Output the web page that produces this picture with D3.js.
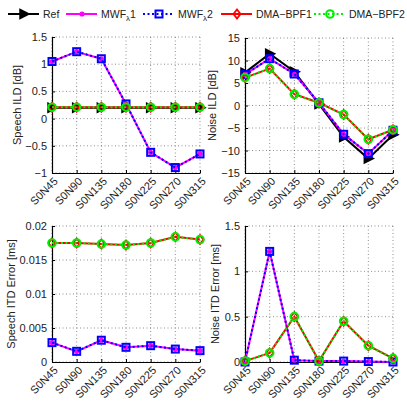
<!DOCTYPE html>
<html><head><meta charset="utf-8">
<script src="https://cdn.jsdelivr.net/npm/d3@7"></script>
<style>body{margin:0;background:#fff}svg{font-family:"Liberation Sans",Arial,sans-serif}</style>
</head><body><svg id="c" width="407" height="402"></svg>
<script>
const categories = ["S0N45","S0N90","S0N135","S0N180","S0N225","S0N270","S0N315"];
// Speech ILD [dB]
const speechILD_ref  = [0.2,0.2,0.2,0.2,0.2,0.2,0.2];
const speechILD_mwf1 = [1.05,1.23,1.1,0.27,-0.62,-0.9,-0.65];
const speechILD_mwf2 = [1.05,1.23,1.1,0.27,-0.62,-0.9,-0.65];
const speechILD_dma1 = [0.21,0.21,0.21,0.21,0.21,0.21,0.21];
const speechILD_dma2 = [0.21,0.21,0.21,0.21,0.21,0.21,0.21];
// Noise ILD [dB]
const noiseILD_ref  = [7.3,11.5,7.5,0.3,-7.0,-11.8,-6.5];
const noiseILD_mwf1 = [6.9,10.4,7.0,0.6,-6.4,-10.7,-5.5];
const noiseILD_mwf2 = [6.9,10.4,7.0,0.6,-6.4,-10.7,-5.5];
const noiseILD_dma1 = [6.2,8.2,2.5,0.6,-2.0,-7.5,-5.4];
const noiseILD_dma2 = [6.2,8.2,2.5,0.6,-2.0,-7.5,-5.4];
// Speech ITD Error [ms]
const speechITD_mwf1 = [0.00285,0.00157,0.0032,0.00216,0.0024,0.0019,0.00167];
const speechITD_mwf2 = [0.00285,0.00157,0.0032,0.00216,0.0024,0.0019,0.00167];
const speechITD_dma1 = [0.0175,0.0175,0.01735,0.0172,0.0175,0.0184,0.018];
const speechITD_dma2 = [0.0175,0.0175,0.01735,0.0172,0.0175,0.0184,0.018];
// Noise ITD Error [ms]
const noiseITD_mwf1 = [0.0,1.22,0.02,0.01,0.01,0.005,0.0];
const noiseITD_mwf2 = [0.0,1.22,0.02,0.01,0.01,0.005,0.0];
const noiseITD_dma1 = [0.01,0.1,0.5,0.01,0.45,0.18,0.04];
const noiseITD_dma2 = [0.01,0.1,0.5,0.01,0.45,0.18,0.04];

const ticks1 = [-1,-0.5,0,0.5,1,1.5];
const ticks2 = [-15,-10,-5,0,5,10,15];
const ticks3 = [0,0.005,0.01,0.015,0.02];
const ticks4 = [0,0.5,1,1.5];

const legendNames = ["Ref","MWF","MWF","DMA\u2212BPF1","DMA\u2212BPF2"];

const styles = {
  ref:{color:"#000",dash:null,marker:"tri"},
  mwf1:{color:"#ff00ff",dash:null,marker:"dot"},
  mwf2:{color:"#0000ff",dash:"2,2.5",marker:"sq"},
  dma1:{color:"#ff0000",dash:null,marker:"dia"},
  dma2:{color:"#00ee00",dash:"2,2.5",marker:"circ"}
};

const svg = d3.select("#c");
const fmt = v => String(v).replace("-","\u2212");

function drawMarker(g,type,x,y,color){
  if(type==="tri"){
    g.append("path").attr("d",`M${x-4},${y-4.5}L${x+5},${y}L${x-4},${y+4.5}Z`)
     .attr("fill","#000").attr("stroke","#000").attr("stroke-width",1.5);
  } else if(type==="dot"){
    g.append("circle").attr("cx",x).attr("cy",y).attr("r",2.6).attr("fill",color);
  } else if(type==="sq"){
    g.append("rect").attr("x",x-3.5).attr("y",y-3.5).attr("width",7).attr("height",7)
     .attr("fill","none").attr("stroke",color).attr("stroke-width",2);
  } else if(type==="dia"){
    g.append("path").attr("d",`M${x},${y-4.5}L${x+3.5},${y}L${x},${y+4.5}L${x-3.5},${y}Z`)
     .attr("fill","none").attr("stroke",color).attr("stroke-width",1.8);
  } else if(type==="circ"){
    g.append("circle").attr("cx",x).attr("cy",y).attr("r",3.8)
     .attr("fill","none").attr("stroke",color).attr("stroke-width",2);
  }
}

function panel(box, domain, ticks, label, series){
  const x = d3.scalePoint().domain(categories).range([box.x0,box.x1]);
  const y = d3.scaleLinear().domain(domain).range([box.y1,box.y0]);
  const g = svg.append("g");
  // grid
  const grid = g.append("g").attr("stroke","#444").attr("stroke-width",0.6).attr("stroke-dasharray","1,2.5");
  categories.forEach(c=>{ grid.append("line").attr("x1",x(c)).attr("x2",x(c)).attr("y1",box.y0).attr("y2",box.y1); });
  ticks.forEach(t=>{ grid.append("line").attr("x1",box.x0).attr("x2",box.x1).attr("y1",y(t)).attr("y2",y(t)); });
  // axes
  const ya = g.append("g").attr("transform",`translate(${box.x0},0)`)
    .call(d3.axisLeft(y).tickValues(ticks).tickFormat(fmt).tickSizeInner(-3).tickSizeOuter(0).tickPadding(5));
  const xa = g.append("g").attr("transform",`translate(0,${box.y1})`)
    .call(d3.axisBottom(x).tickSizeInner(-3).tickSizeOuter(0).tickPadding(4));
  [ya,xa].forEach(a=>{ a.select(".domain").attr("stroke","#000").attr("stroke-width",1.2);
    a.selectAll(".tick line").attr("stroke","#000");
    a.selectAll("text").attr("font-size",11).attr("fill","#222").attr("font-family","Liberation Sans, Arial, sans-serif"); });
  xa.selectAll(".tick text").attr("text-anchor","end").attr("dy",0).attr("y",0)
    .attr("transform","translate(6,9) rotate(-45)");
  // label
  g.append("text").attr("transform",`translate(${box.lx},${(box.y0+box.y1)/2}) rotate(-90)`)
    .attr("text-anchor","middle").attr("font-size",11).attr("fill","#222").text(label);
  // series
  series.forEach(([key,vals])=>{
    const st = styles[key];
    const line = d3.line().x((d,i)=>x(categories[i])).y(d=>y(d));
    g.append("path").attr("d",line(vals)).attr("fill","none").attr("stroke",st.color)
      .attr("stroke-width",2).attr("stroke-dasharray",st.dash);
    vals.forEach((v,i)=>drawMarker(g,st.marker,x(categories[i]),y(v),st.color));
  });
}

panel({x0:52,x1:200,y0:37,y1:173,lx:21}, [-1,1.5], ticks1, "Speech ILD [dB]",
  [["ref",speechILD_ref],["mwf1",speechILD_mwf1],["mwf2",speechILD_mwf2],["dma1",speechILD_dma1],["dma2",speechILD_dma2]]);
panel({x0:245,x1:393,y0:38,y1:173,lx:216}, [-15,15], ticks2, "Noise ILD [dB]",
  [["ref",noiseILD_ref],["mwf1",noiseILD_mwf1],["mwf2",noiseILD_mwf2],["dma1",noiseILD_dma1],["dma2",noiseILD_dma2]]);
panel({x0:52,x1:200,y0:226,y1:362,lx:15}, [0,0.02], ticks3, "Speech ITD Error [ms]",
  [["mwf1",speechITD_mwf1],["mwf2",speechITD_mwf2],["dma1",speechITD_dma1],["dma2",speechITD_dma2]]);
panel({x0:245,x1:393,y0:226,y1:362,lx:219}, [0,1.5], ticks4, "Noise ITD Error [ms]",
  [["mwf1",noiseITD_mwf1],["mwf2",noiseITD_mwf2],["dma1",noiseITD_dma1],["dma2",noiseITD_dma2]]);

// legend
const lg = svg.append("g");
const keys = ["ref","mwf1","mwf2","dma1","dma2"];
const lx = [8,66,143,221,314];
const subs = [null,"1","2",null,null];
keys.forEach((k,i)=>{
  const st = styles[k], y0 = 14, x0 = lx[i];
  lg.append("line").attr("x1",x0).attr("x2",x0+31).attr("y1",y0).attr("y2",y0)
    .attr("stroke",st.color).attr("stroke-width",2).attr("stroke-dasharray",st.dash);
  drawMarker(lg,st.marker,x0+16,y0,st.color);
  const t = lg.append("text").attr("x",x0+35).attr("y",y0+4).attr("font-size",10.5).attr("fill","#222");
  t.append("tspan").text(legendNames[i]);
  if(subs[i]){
    t.append("tspan").attr("font-size",8).attr("dy",3).text("\u03bb");
    t.append("tspan").attr("dy",-3).text(subs[i]);
  }
});
</script></body></html>
